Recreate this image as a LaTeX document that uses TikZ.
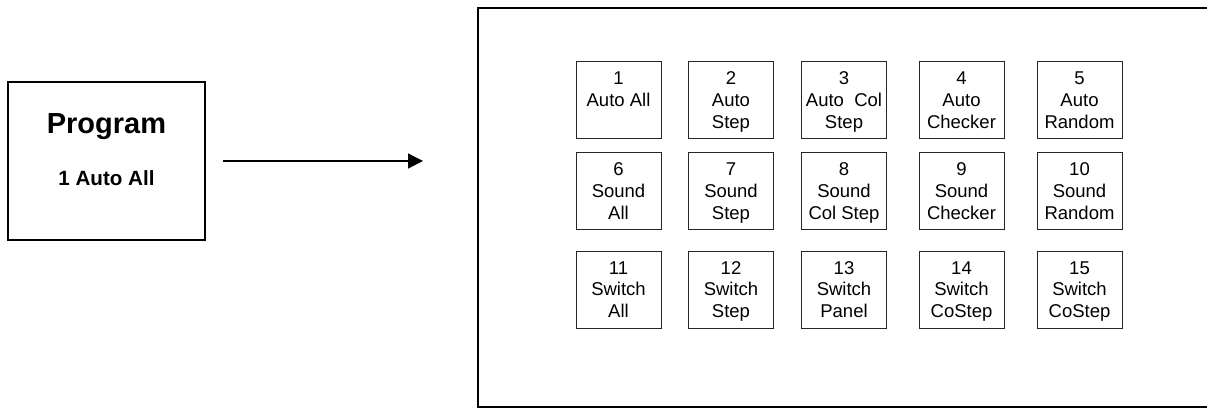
\documentclass[tikz,border=0pt]{standalone}
\usepackage{fontspec}
\setmainfont{Liberation Sans}
\usetikzlibrary{arrows.meta}

\begin{document}
\begin{tikzpicture}[x=1pt, y=1pt,
                    pad/.style={rectangle, draw=black!85, line width=0.9pt,
                                minimum width=85pt, minimum height=77pt,
                                inner sep=0pt, align=center, text depth=0pt},
                    frame/.style={rectangle, draw, line width=2pt, inner sep=0pt},
                    font=\fontsize{18.5pt}{21.7pt}\selectfont]
  \useasboundingbox (0, 0) rectangle (1207, 410);

  % Program selector.
  \node at (106.5, 249) [frame, minimum width=197pt, minimum height=158pt, name=Program] {};
  \node at (106.5, 283) [font=\fontsize{29pt}{31pt}\selectfont\bfseries, name=ProgramTitle] {Program};
  \node at (106.5, 232) [font=\fontsize{20.6pt}{22pt}\selectfont\bfseries, name=ProgramMode] {1 Auto All};

  % Panel with the mode buttons.
  \node at (844, 202.5) [frame, minimum width=732pt, minimum height=399pt, name=Panel] {};

  \node at (618.5, 310) [pad, name=AutoAll] {1\\Auto All\\~};
  \node at (731, 310) [pad, name=AutoStep] {2\\Auto\\Step};
  \node at (844, 310) [pad, name=AutoColStep] {3\\Auto~ Col\\Step};
  \node at (961.5, 310) [pad, name=AutoChecker] {4\\Auto\\Checker};
  \node at (1079.5, 310) [pad, name=AutoRandom] {5\\Auto\\Random};

  \node at (618.5, 219) [pad, name=SoundAll] {6\\Sound\\All};
  \node at (731, 219) [pad, name=SoundStep] {7\\Sound\\Step};
  \node at (844, 219) [pad, name=SoundColStep] {8\\Sound\\Col Step};
  \node at (961.5, 219) [pad, name=SoundChecker] {9\\Sound\\Checker};
  \node at (1079.5, 219) [pad, name=SoundRandom] {10\\Sound\\Random};

  \node at (618.5, 120.5) [pad, name=SwitchAll] {11\\Switch\\All};
  \node at (731, 120.5) [pad, name=SwitchStep] {12\\Switch\\Step};
  \node at (844, 120.5) [pad, name=SwitchPanel] {13\\Switch\\Panel};
  \node at (961.5, 120.5) [pad, name=SwitchCoStep] {14\\Switch\\CoStep};
  \node at (1079.5, 120.5) [pad, name=SwitchCoStepTwo] {15\\Switch\\CoStep};

  % Selection goes to the panel.
  \coordinate (panelin) at (423, 249);
  \draw [-{Triangle[length=15pt, width=15pt]}, line width=1.3pt, shorten <=17pt]
        (Program.east)
        to (panelin);
\end{tikzpicture}
\end{document}
